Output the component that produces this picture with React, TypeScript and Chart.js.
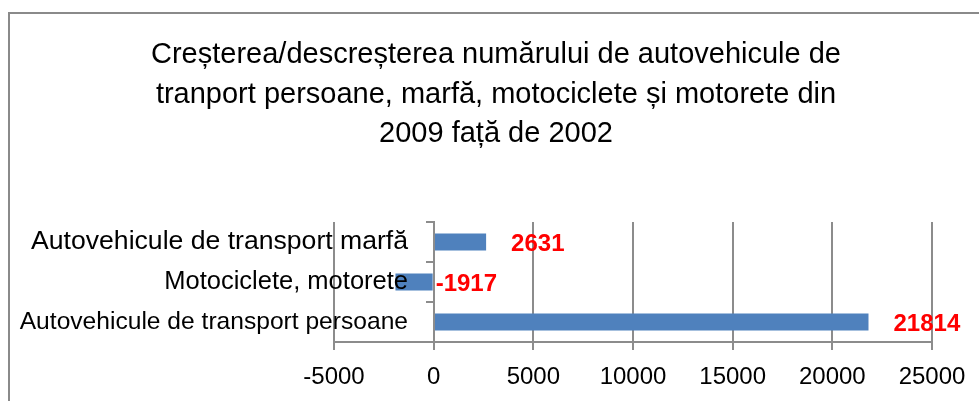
import React, { useEffect, useRef } from "react";
import { Chart, registerables } from "chart.js";

Chart.register(...registerables);

const categories = [
  "Autovehicule de transport persoane",
  "Motociclete, motorete",
  "Autovehicule de transport marfă",
];
const values = [21814, -1917, 2631];
const xMin = -5000;
const xMax = 25000;
const xStep = 5000;
const titleLines = [
  "Creșterea/descreșterea numărului de autovehicule de",
  "tranport persoane, marfă, motociclete și motorete din",
  "2009 față de 2002",
];

const AXIS_FONT = "'Liberation Sans', Arial, sans-serif";
// category label font sizes (style), in the same order as categories
const catFontSizes = [24.6, 25.5, 26.6];
const GRID = "#8c8c8c";
const PLOT_LEFT = 334;
const LABEL_RIGHT = 408;

const framePlugin = {
  id: "frameAndTitle",
  beforeDraw(chart: any) {
    const ctx = chart.ctx;
    ctx.save();
    ctx.fillStyle = "#ffffff";
    ctx.fillRect(0, 0, chart.width, chart.height);
    ctx.fillStyle = "#8a8a8a";
    ctx.fillRect(8, 12, 2, chart.height);
    ctx.fillRect(8, 12, chart.width, 2);
    ctx.fillStyle = "#000000";
    ctx.font = `29px ${AXIS_FONT}`;
    ctx.textAlign = "center";
    ctx.textBaseline = "alphabetic";
    titleLines.forEach((line, i) => {
      ctx.fillText(line, 496, 63 + i * 39.5);
    });
    ctx.restore();
  },
};

const dataLabelPlugin = {
  id: "dataLabels",
  afterDatasetsDraw(chart: any) {
    const ctx = chart.ctx;
    const meta = chart.getDatasetMeta(0);
    ctx.save();
    ctx.fillStyle = "#ff0000";
    ctx.font = `bold 24px ${AXIS_FONT}`;
    ctx.textAlign = "left";
    ctx.textBaseline = "middle";
    meta.data.forEach((bar: any, i: number) => {
      const v = values[i];
      const x = v >= 0 ? bar.x + 25 : bar.base + 3;
      ctx.fillText(String(v), x, bar.y + 2);
    });
    ctx.restore();
  },
};

function widestLabel(): number {
  const c = document.createElement("canvas").getContext("2d");
  if (!c) return 390;
  let w = 0;
  categories.forEach((t, i) => {
    c.font = `${catFontSizes[i]}px ${AXIS_FONT}`;
    w = Math.max(w, c.measureText(t).width);
  });
  return w;
}

export default function App() {
  const ref = useRef<HTMLCanvasElement | null>(null);

  useEffect(() => {
    if (!ref.current) return;
    const widest = widestLabel();
    const chart = new Chart(ref.current, {
      type: "bar",
      data: {
        labels: categories,
        datasets: [
          {
            data: values,
            backgroundColor: "#4f81bd",
            borderWidth: 0,
            barPercentage: 0.42,
            categoryPercentage: 1,
          },
        ],
      },
      options: {
        animation: false,
        responsive: false,
        indexAxis: "y",
        layout: { padding: { left: 0, right: 47, top: 222, bottom: 0 } },
        plugins: {
          legend: { display: false },
          title: { display: false },
          tooltip: { enabled: false },
        },
        scales: {
          x: {
            type: "linear",
            min: xMin,
            max: xMax,
            ticks: {
              stepSize: xStep,
              color: "#000000",
              font: { family: AXIS_FONT, size: 24 },
              padding: 13,
              callback: (v: any) => String(v),
            },
            grid: { color: GRID, lineWidth: 2, tickLength: 8 },
            border: { color: GRID, width: 2 },
            afterFit: (s: any) => {
              s.height = 59;
            },
          },
          y: {
            type: "category",
            position: "left",
            reverse: true,
            offset: true,
            grid: { display: false, drawTicks: false },
            border: { display: false },
            ticks: {
              color: "#000000",
              font: (c: any) => ({
                family: AXIS_FONT,
                size: catFontSizes[c.index] ?? 24.5,
              }),
              mirror: true,
              crossAlign: "far",
              padding: LABEL_RIGHT - PLOT_LEFT - widest,
              z: 1,
            },
            afterFit: (s: any) => {
              s.width = PLOT_LEFT;
            },
          },
          y2: {
            type: "category",
            axis: "y",
            position: { x: 0 },
            reverse: true,
            offset: true,
            grid: {
              drawOnChartArea: false,
              color: GRID,
              lineWidth: 2,
              tickLength: 7,
              offset: true,
            },
            border: { color: GRID, width: 2, z: 1 },
            ticks: { display: false },
          },
        },
      } as any,
      plugins: [framePlugin, dataLabelPlugin],
    });
    return () => chart.destroy();
  }, []);

  return (
    <div
      style={{
        position: "fixed",
        left: 0,
        top: 0,
        width: 979,
        height: 401,
        overflow: "hidden",
        background: "#fff",
      }}
    >
      <canvas ref={ref} width={979} height={401} style={{ display: "block" }} />
    </div>
  );
}
